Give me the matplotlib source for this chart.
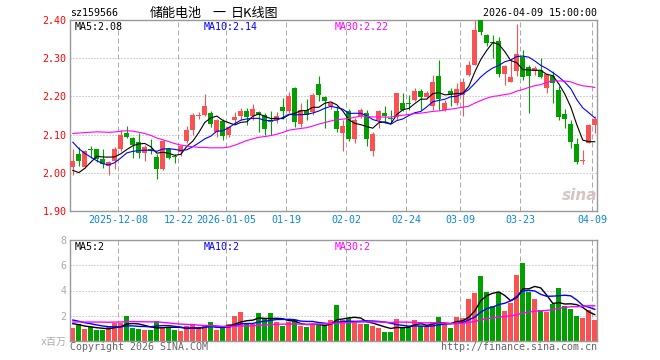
"""
Daily K-line chart for sz159566 (储能电池), Sina style, with volume panel.
"""

import numpy as np
import pandas as pd
import matplotlib.pyplot as plt

W, H = 660, 360

# ---- data ----
opens = [2.015, 2.048, 2.015, 2.062, 2.061, 2.037, 2.017, 2.032, 2.061, 2.104,
         2.090, 2.080, 2.052, 2.061, 2.042, 2.009, 2.063, 2.042, 2.054, 2.084,
         2.111, 2.149, 2.152, 2.156, 2.106, 2.135, 2.098, 2.138, 2.148, 2.161,
         2.148, 2.159, 2.152, 2.137, 2.137, 2.172, 2.163, 2.222, 2.127, 2.165,
         2.158, 2.233, 2.198, 2.174, 2.163, 2.105, 2.163, 2.089, 2.148, 2.156,
         2.056, 2.139, 2.156, 2.141, 2.146, 2.184, 2.181, 2.191, 2.215, 2.198,
         2.174, 2.253, 2.165, 2.213, 2.183, 2.204, 2.257, 2.283, 2.400, 2.362,
         2.343, 2.344, 2.259, 2.239, 2.266, 2.302, 2.278, 2.266, 2.270, 2.222,
         2.253, 2.216, 2.155, 2.129, 2.076, 2.031, 2.078, 2.124]
highs = [2.061, 2.068, 2.060, 2.070, 2.062, 2.061, 2.030, 2.067, 2.111, 2.123,
         2.093, 2.104, 2.074, 2.089, 2.048, 2.087, 2.065, 2.048, 2.072, 2.122,
         2.157, 2.158, 2.205, 2.161, 2.141, 2.140, 2.122, 2.160, 2.170, 2.170,
         2.181, 2.161, 2.156, 2.161, 2.159, 2.196, 2.212, 2.224, 2.183, 2.193,
         2.209, 2.253, 2.202, 2.184, 2.174, 2.139, 2.167, 2.143, 2.170, 2.165,
         2.106, 2.165, 2.174, 2.165, 2.210, 2.209, 2.204, 2.222, 2.219, 2.213,
         2.257, 2.295, 2.191, 2.222, 2.235, 2.248, 2.292, 2.400, 2.405, 2.363,
         2.362, 2.355, 2.283, 2.294, 2.390, 2.322, 2.283, 2.279, 2.301, 2.262,
         2.266, 2.226, 2.167, 2.139, 2.091, 2.060, 2.129, 2.148]
lows = [1.993, 2.019, 2.013, 2.040, 2.028, 2.013, 1.994, 2.009, 2.058, 2.090,
        2.039, 2.039, 2.030, 2.048, 1.985, 2.007, 2.035, 2.026, 2.043, 2.078,
        2.100, 2.140, 2.150, 2.119, 2.095, 2.086, 2.093, 2.128, 2.139, 2.126,
        2.139, 2.108, 2.100, 2.100, 2.130, 2.140, 2.156, 2.121, 2.121, 2.139,
        2.152, 2.187, 2.117, 2.167, 2.108, 2.058, 2.082, 2.078, 2.143, 2.071,
        2.045, 2.117, 2.130, 2.130, 2.139, 2.161, 2.165, 2.189, 2.165, 2.196,
        2.165, 2.165, 2.161, 2.174, 2.178, 2.148, 2.253, 2.281, 2.362, 2.332,
        2.301, 2.251, 2.231, 2.237, 2.253, 2.244, 2.157, 2.257, 2.248, 2.208,
        2.183, 2.139, 2.117, 2.065, 2.024, 2.024, 2.077, 2.104]
closes = [2.032, 2.030, 2.057, 2.060, 2.037, 2.023, 2.028, 2.061, 2.100, 2.093,
          2.072, 2.052, 2.067, 2.057, 2.009, 2.083, 2.039, 2.041, 2.070, 2.113,
          2.152, 2.151, 2.174, 2.128, 2.137, 2.096, 2.120, 2.146, 2.161, 2.145,
          2.167, 2.152, 2.114, 2.132, 2.148, 2.163, 2.202, 2.134, 2.165, 2.152,
          2.204, 2.203, 2.187, 2.182, 2.114, 2.123, 2.089, 2.139, 2.165, 2.089,
          2.102, 2.161, 2.150, 2.140, 2.209, 2.165, 2.179, 2.213, 2.198, 2.209,
          2.237, 2.193, 2.183, 2.205, 2.220, 2.239, 2.283, 2.373, 2.368, 2.340,
          2.341, 2.259, 2.279, 2.250, 2.312, 2.251, 2.254, 2.274, 2.251, 2.258,
          2.235, 2.146, 2.142, 2.080, 2.027, 2.033, 2.126, 2.141]
# volume, millions
volume = [1.05, 1.34, 0.92, 1.11, 0.84, 0.84, 1.11, 1.42, 1.42, 1.95,
          1.03, 0.92, 0.84, 0.84, 1.55, 1.11, 1.11, 0.84, 0.76, 1.16,
          1.29, 0.95, 1.24, 1.47, 0.84, 1.11, 1.34, 1.95, 2.29, 1.34,
          1.34, 2.21, 1.76, 2.21, 1.47, 1.16, 1.47, 1.63, 1.16, 1.08,
          1.34, 1.34, 1.24, 1.63, 2.85, 1.66, 1.79, 1.45, 1.34, 1.34,
          1.18, 1.03, 0.71, 0.71, 1.74, 1.10, 1.18, 1.66, 1.18, 1.10,
          1.53, 1.90, 1.34, 1.03, 1.90, 1.82, 3.34, 3.79, 5.14, 3.87,
          2.77, 3.87, 2.37, 3.03, 5.22, 6.17, 3.87, 3.32, 2.45, 2.32,
          2.92, 4.19, 2.77, 2.53, 1.98, 1.82, 2.45, 1.66]

# sessions before the window (estimated from where the MA lines start)
pre_close = [2.00, 2.02, 2.03, 2.01, 2.04, 2.05, 2.03, 2.04, 2.06, 2.10,
             2.14, 2.17, 2.20, 2.22, 2.21, 2.19, 2.20, 2.18, 2.19, 2.21,
             2.20, 2.18, 2.16, 2.13, 2.10, 2.06, 2.00, 1.98, 1.96]
pre_volume = [1.0, 1.2, 1.1, 0.9, 1.0, 1.3, 1.1, 1.2, 1.0, 1.1,
              1.2, 1.0, 1.1, 1.3, 2.6, 2.4, 2.3, 2.0, 1.9, 1.7,
              2.3, 2.1, 1.9, 1.8, 1.65, 1.7, 1.5, 1.4, 1.2]

tick_idx = [8, 18, 26, 36, 46, 56, 65, 75, 87]
tick_labels = ["2025-12-08", "12-22", "2026-01-05", "01-19", "02-02",
               "02-24", "03-09", "03-23", "04-09"]

RED, GREEN = "#fa5252", "#00a000"
GRID = "#aaaaaa"
MONO = "DejaVu Sans Mono"
CJK = ["Noto Sans CJK SC", "DejaVu Sans"]


def px(x, y):
    return x / W, 1 - y / H


def moving_avg(pre, vals, n):
    s = pd.Series(list(pre) + list(vals)).rolling(n).mean()
    return s.to_numpy()[len(pre):]


o = np.array(opens)
h = np.array(highs)
l = np.array(lows)
c = np.array(closes)
v = np.array(volume)
x = np.arange(len(c))
colors = np.where(c >= o, RED, GREEN)

fig = plt.figure(figsize=(W / 100, H / 100), dpi=100)
ax = fig.add_axes([70 / W, 1 - 211 / H, 527 / W, 191 / H])
axv = fig.add_axes([70 / W, 1 - 341 / H, 527 / W, 101 / H])

grid_x = np.array(tick_idx) - 0.4
for a in (ax, axv):
    a.set_xlim(-0.47, 87.37)
    for sp in a.spines.values():
        sp.set_color("#999999")
        sp.set_linewidth(1)
    for gx in grid_x:
        a.axvline(gx, color=GRID, lw=0.72, ls=(0, (5, 3)), zorder=0)
    a.tick_params(length=0)

# ---- price panel ----
ax.set_ylim(1.90, 2.40)
for gy in [2.0, 2.1, 2.2, 2.3]:
    ax.axhline(gy, color=GRID, lw=0.72, ls=(0, (1, 2)), zorder=0)
ax.vlines(x, l, h, colors=colors, lw=0.8, zorder=2)
body = np.maximum(np.abs(c - o), 0.0026)
ax.bar(x, body, bottom=np.minimum(o, c), width=0.83, color=colors,
       linewidth=0, zorder=3)
ax.plot(x, moving_avg(pre_close, c, 5), color="black", lw=0.8, zorder=4)
ax.plot(x, moving_avg(pre_close, c, 10), color="#0000ff", lw=0.8, zorder=4)
ax.plot(x, moving_avg(pre_close, c, 30), color="#ff00ff", lw=0.8, zorder=4)

ax.set_yticks([1.9, 2.0, 2.1, 2.2, 2.3, 2.4])
ax.set_yticklabels(["1.90", "2.00", "2.10", "2.20", "2.30", "2.40"],
                   color="#ff0000", family=MONO, fontsize=7.2)
ax.set_xticks(grid_x)
ax.set_xticklabels(tick_labels, color="#0a87d8", family=MONO, fontsize=7.2)
ax.tick_params(axis="y", pad=2.5)
ax.tick_params(axis="x", pad=3)

# ---- volume panel ----
axv.set_ylim(0, 8)
for gy in [2, 4, 6]:
    axv.axhline(gy, color=GRID, lw=0.72, ls=(0, (1, 2)), zorder=0)
axv.bar(x, v, width=0.83, color=colors, linewidth=0, zorder=2)
axv.plot(x, moving_avg(pre_volume, v, 5), color="black", lw=1, zorder=3)
axv.plot(x, moving_avg(pre_volume, v, 10), color="#0000ff", lw=1, zorder=3)
axv.plot(x, moving_avg(pre_volume, v, 30), color="#ff00ff", lw=1, zorder=3)
axv.set_yticks([0, 2, 4, 6, 8])
axv.set_yticklabels(["x百万", "2", "4", "6", "8"], color="#aaaaaa",
                    family=[MONO, "Noto Sans CJK SC"], fontsize=7.2)
axv.tick_params(axis="y", pad=2.5)
axv.set_xticks([])

# ---- texts ----
fig.text(*px(70, 13), "sz159566", family=MONO, fontsize=7.2, va="center")
fig.text(*px(176, 13), "储能电池", family=CJK, fontsize=9.4,
         ha="center", va="center")
fig.text(*px(218.5, 13), "一", family=CJK, fontsize=9.4,
         ha="center", va="center")
fig.text(*px(254.5, 13), "日K线图", family=CJK, fontsize=9.4,
         ha="center", va="center")
fig.text(*px(597, 13), "2026-04-09 15:00:00", family=MONO, fontsize=7.2,
         ha="right", va="center")

for (lx, txt, col) in [(75, "MA5:2.08", "black"), (204, "MA10:2.14", "#0000ff"),
                       (335, "MA30:2.22", "#ff00ff")]:
    fig.text(*px(lx, 27), txt, family=MONO, fontsize=7.2, color=col, va="center")
for (lx, txt, col) in [(75, "MA5:2", "black"), (204, "MA10:2", "#0000ff"),
                       (335, "MA30:2", "#ff00ff")]:
    fig.text(*px(lx, 247), txt, family=MONO, fontsize=7.2, color=col, va="center")

fig.text(*px(580, 195), "sina", fontsize=11, fontweight="bold", style="italic",
         color="#d4c4c4", ha="center", va="center")
fig.text(*px(70, 347), "Copyright 2026 SINA.COM", family=MONO, fontsize=7.2,
         color="#666666", va="center")
fig.text(*px(597, 347), "http://finance.sina.com.cn", family=MONO, fontsize=7.2,
         color="#666666", ha="right", va="center")

fig.savefig("out.png", dpi=100)
